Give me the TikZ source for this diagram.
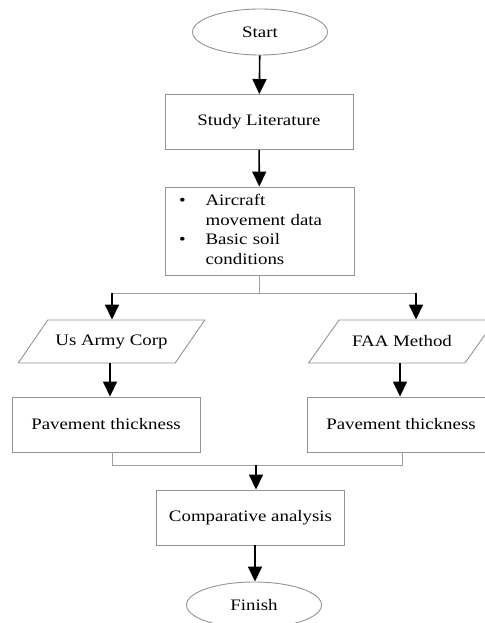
\documentclass[tikz,border=0pt]{standalone}
\usepackage{fontspec}
\setmainfont{Liberation Serif}[FakeStretch=1.18]
\usetikzlibrary{shapes.geometric,arrows.meta}

\begin{document}
\begin{tikzpicture} [
                x=1pt, y=-1pt,
                font=\fontsize{16}{19.5}\selectfont,
                terminal/.style={ellipse,draw=gray!85,line width=0.9pt,minimum width=135pt,minimum height=46pt,inner sep=0pt},
                process/.style={rectangle,draw=gray!85,line width=0.9pt,minimum width=188pt,minimum height=55pt,inner sep=0pt},
                method/.style={trapezium,trapezium stretches=true,trapezium left angle=57,trapezium right angle=123,
                               draw=gray!85,line width=0.9pt,minimum width=187pt,minimum height=43pt,inner xsep=0pt,inner ysep=13pt},
                flow/.style = {draw,line width=1.6pt,-{Triangle[width=14pt,length=15pt]}},
                link/.style = {draw,gray!75,line width=1pt,-},
            ]
            \useasboundingbox (0,0) rectangle (484,623);
            % First we draw the start and finish
            \foreach \pos/\name/\label in {
                    {(260,32)/start/Start},
                    {(254,605)/finish/Finish}}
                \node[terminal] (\name) at \pos {\label};
            % the boxes
            \foreach \pos/\name/\label in {
                    {(259,122)/study/Study Literature},
                    {(106,424.5)/paveA/Pavement thickness},
                    {(401,424.5)/paveB/Pavement thickness},
                    {(250.5,517.5)/compare/Comparative analysis}}
                \node[process] (\name) at \pos {\label};
            \node[process,minimum width=0pt,text width=161pt,inner xsep=14pt,minimum height=88pt] (data) at (259.5,231)
                {\begin{tabular}{@{}l@{\hspace{20pt}}l@{}}
                    \textbullet & Aircraft\\
                                & movement data\\
                    \textbullet & Basic soil\\
                                & conditions
                 \end{tabular}};
            % the two methods
            \foreach \pos/\name/\label in {
                    {(111.5,341.5)/army/Us Army Corp},
                    {(402,341.5)/faa/FAA Method}}
                \node[method] (\name) at \pos {\label};
            \coordinate (split) at (259.5,293);
            \coordinate (splitA) at (112,293);
            \coordinate (splitB) at (416,293);
            \coordinate (mergeA) at (112,465);
            \coordinate (mergeB) at (402,465);
            \coordinate (merge) at (256,465);
            % Connect the boxes
            \path[link] (data.south) -- (split);
            \path[link] (splitA) -- (splitB);
            \path[link] (mergeA |- paveA.south) -- (mergeA) -- (mergeB) -- (mergeB |- paveB.south);
            \foreach \source/ \dest in {
                    start/study,
                    study/data}
                \path[flow] (\source) -- (\dest);
            \path[flow] (splitA) -- (splitA |- army.north);
            \path[flow] (splitB) -- (splitB |- faa.north);
            \path[flow] ([xshift=-1.5pt]army.south) -- ([xshift=-1.5pt]army.south |- paveA.north);
            \path[flow] ([xshift=-2pt]faa.south) -- ([xshift=-2pt]faa.south |- paveB.north);
            \path[flow] (merge) -- (merge |- compare.north);
            \path[flow] ([xshift=4.5pt]compare.south) -- ([xshift=4.5pt]compare.south |- finish.north);
        \end{tikzpicture}
\end{document}
